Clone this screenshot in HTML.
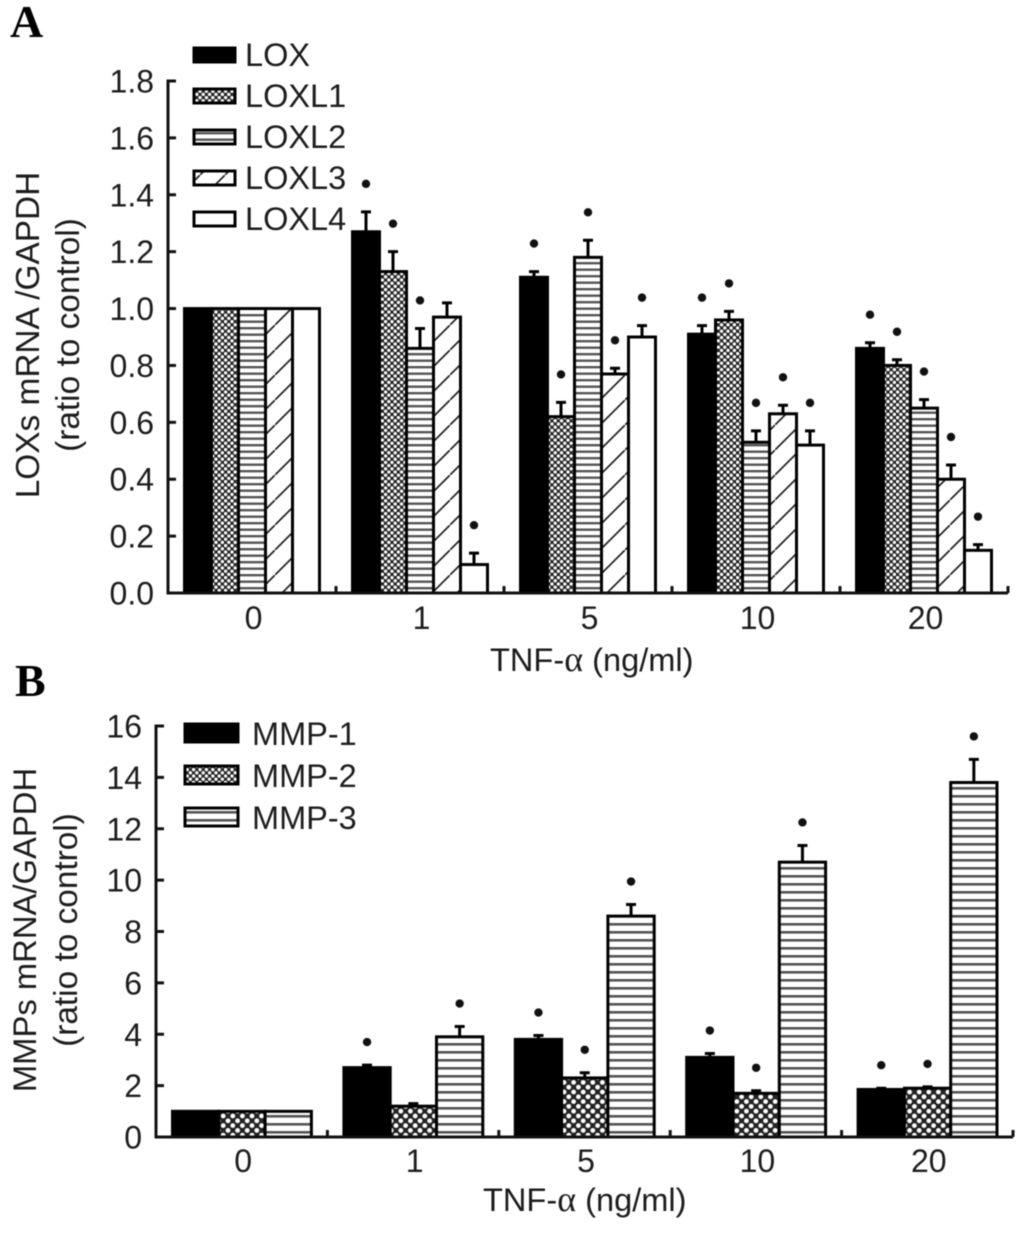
<!DOCTYPE html>
<html lang="en">
<head>
<meta charset="utf-8">
<title>LOXs and MMPs mRNA vs TNF-alpha</title>
<style>
html,body{margin:0;padding:0;background:#fff;width:1029px;height:1233px;overflow:hidden}
svg{display:block;filter:blur(0.55px)}
text{font-family:"Liberation Sans",Arial,sans-serif;fill:#1c1c1c}
.tick{font-size:32px}
.legend{font-size:32.5px}
.title{font-size:33.4px}
.panel{font-family:"Liberation Serif",serif;font-weight:bold;font-size:46px;fill:#000}
.alpha{font-family:"Liberation Serif",serif;font-size:36px}
</style>
</head>
<body>
<svg id="figure" xmlns="http://www.w3.org/2000/svg" width="1029" height="1233" viewBox="0 0 1029 1233">
<defs>
<pattern id="checkA" width="6.4" height="6.4" patternUnits="userSpaceOnUse">
<rect width="6.4" height="6.4" fill="#222"/><circle cx="1.6" cy="1.6" r="1.7" fill="#fff"/><circle cx="4.8" cy="4.8" r="1.7" fill="#fff"/>
</pattern>
<pattern id="stripeA" width="6.5" height="6.5" patternUnits="userSpaceOnUse">
<rect width="6.5" height="6.5" fill="#fff"/><rect y="2" width="6.5" height="2.4" fill="#555"/>
</pattern>
<pattern id="diagA" width="25" height="25" patternUnits="userSpaceOnUse">
<rect width="25" height="25" fill="#fff"/><path d="M-2 27L27 -2" stroke="#222" stroke-width="1.7"/>
</pattern>
<pattern id="checkB" width="9.6" height="9.6" patternUnits="userSpaceOnUse">
<rect width="9.6" height="9.6" fill="#222"/><circle cx="2.4" cy="2.4" r="2.4" fill="#fff"/><circle cx="7.2" cy="7.2" r="2.4" fill="#fff"/>
</pattern>
<pattern id="stripeB" width="8" height="8" patternUnits="userSpaceOnUse">
<rect width="8" height="8" fill="#fff"/><rect y="3" width="8" height="2.6" fill="#555"/>
</pattern>
</defs>

<text class="panel" x="10" y="37">A</text>
<text class="panel" x="15" y="696">B</text>

<g>
<g><rect x="194" y="48" width="41" height="14" fill="#000" stroke="#000" stroke-width="3"/><text class="legend" x="245" y="66">LOX</text></g>
<g><rect x="194" y="89" width="41" height="14" fill="url(#checkA)" stroke="#000" stroke-width="3"/><text class="legend" x="245" y="107">LOXL1</text></g>
<g><rect x="194" y="130" width="41" height="14" fill="url(#stripeA)" stroke="#000" stroke-width="3"/><text class="legend" x="245" y="148">LOXL2</text></g>
<g><rect x="194" y="171" width="41" height="14" fill="url(#diagA)" stroke="#000" stroke-width="3"/><text class="legend" x="245" y="189">LOXL3</text></g>
<g><rect x="194" y="212" width="41" height="14" fill="#fff" stroke="#000" stroke-width="3"/><text class="legend" x="245" y="230">LOXL4</text></g>
</g>

<g>
<g><rect x="185" y="724" width="53" height="18" fill="#000" stroke="#000" stroke-width="3"/><text class="legend" x="252" y="745">MMP-1</text></g>
<g><rect x="185" y="766" width="53" height="18" fill="url(#checkA)" stroke="#000" stroke-width="3"/><text class="legend" x="252" y="787">MMP-2</text></g>
<g><rect x="185" y="808" width="53" height="18" fill="url(#stripeB)" stroke="#000" stroke-width="3"/><text class="legend" x="252" y="829">MMP-3</text></g>
</g>

<text class="title" text-anchor="middle" transform="translate(39 335) rotate(-90)">LOXs mRNA /GAPDH</text>
<text class="title" text-anchor="middle" transform="translate(79 335) rotate(-90)">(ratio to control)</text>
<text class="title" text-anchor="middle" transform="translate(36 930) rotate(-90)" style="font-size:32.8px">MMPs mRNA/GAPDH</text>
<text class="title" text-anchor="middle" transform="translate(77 930) rotate(-90)">(ratio to control)</text>
<text class="title" x="490" y="671" style="font-size:32.6px">TNF-<tspan class="alpha">α</tspan> (ng/ml)</text>
<text class="title" x="483" y="1211" style="font-size:32.6px">TNF-<tspan class="alpha">α</tspan> (ng/ml)</text>

<g id="chart-a"></g>
<g id="chart-b"></g>
</svg>

<script>
const doseLabels = ['0', '1', '5', '10', '20'];

const tickLabelsA = ['0.0', '0.2', '0.4', '0.6', '0.8', '1.0', '1.2', '1.4', '1.6', '1.8'];
const seriesNamesA = ['lox', 'loxl1', 'loxl2', 'loxl3', 'loxl4'];
const loxValues = [1, 1.27, 1.11, 0.91, 0.86];
const loxl1Values = [1, 1.13, 0.62, 0.96, 0.80];
const loxl2Values = [1, 0.86, 1.18, 0.53, 0.65];
const loxl3Values = [1, 0.97, 0.77, 0.63, 0.40];
const loxl4Values = [1, 0.10, 0.90, 0.52, 0.15];
const loxErrors = [0, 0.07, 0.02, 0.03, 0.02];
const loxl1Errors = [0, 0.07, 0.05, 0.03, 0.02];
const loxl2Errors = [0, 0.07, 0.06, 0.04, 0.03];
const loxl3Errors = [0, 0.05, 0.02, 0.03, 0.05];
const loxl4Errors = [0, 0.04, 0.04, 0.05, 0.02];
const loxSig = [0, 1, 1, 1, 1];
const loxl1Sig = [0, 1, 1, 1, 1];
const loxl2Sig = [0, 1, 1, 1, 1];
const loxl3Sig = [0, 0, 1, 1, 1];
const loxl4Sig = [0, 1, 1, 1, 1];

const tickLabelsB = ['0', '2', '4', '6', '8', '10', '12', '14', '16'];
const seriesNamesB = ['mmp1', 'mmp2', 'mmp3'];
const mmp1Values = [1, 2.7, 3.8, 3.1, 1.85];
const mmp2Values = [1, 1.2, 2.3, 1.7, 1.9];
const mmp3Values = [1, 3.9, 8.6, 10.7, 13.8];
const mmp1Errors = [0, 0.1, 0.15, 0.15, 0.05];
const mmp2Errors = [0, 0.1, 0.2, 0.1, 0.05];
const mmp3Errors = [0, 0.4, 0.45, 0.65, 0.9];
const mmp1Sig = [0, 1, 1, 1, 1];
const mmp2Sig = [0, 0, 1, 1, 1];
const mmp3Sig = [0, 1, 1, 1, 1];

const SVGNS = 'http://www.w3.org/2000/svg';

function mk(parent, tag, attrs, text) {
  const el = document.createElementNS(SVGNS, tag);
  for (const k in attrs) el.setAttribute(k, attrs[k]);
  if (text !== undefined) el.textContent = text;
  parent.appendChild(el);
  return el;
}

function drawChart(cfg) {
  const root = document.getElementById(cfg.id);
  const yScale = v => cfg.y0 - (v - cfg.tickMin) / (cfg.tickMax - cfg.tickMin) * (cfg.y0 - cfg.y1);
  const groupLeft = i => cfg.x0 + i * cfg.step;
  const barX = (g, s) => groupLeft(g) + cfg.pad + s * cfg.barW;

  cfg.series.forEach((values, s) => {
    values.forEach((v, g) => {
      const bar = mk(root, 'rect', {
        x: barX(g, s), y: yScale(v), width: cfg.barW, height: cfg.y0 - yScale(v),
        fill: cfg.fills[s], stroke: '#000', 'stroke-width': 3
      });
      
      

      const cx = barX(g, s) + cfg.barW / 2;
      const top = yScale(v + cfg.errors[s][g]);
      if (cfg.errors[s][g] > 0) {
        const err = mk(root, 'path', {
          d: 'M' + cx + ' ' + yScale(v) + 'V' + top + 'M' + (cx - 5) + ' ' + top + 'H' + (cx + 5),
          stroke: '#000', 'stroke-width': 3, fill: 'none'
        });
        
        
      }
      if (cfg.sig[s][g]) {
        const star = mk(root, 'circle', { cx: cx, cy: top - cfg.starGap, r: 4.2, fill: '#111' });
        
        
      }
    });
  });

  const yAxis = mk(root, 'path', {
    d: 'M' + cfg.x0 + ' ' + (cfg.y1 - 1.5) + 'V' + (cfg.y0 + 1.5),
    stroke: '#111', 'stroke-width': 3, fill: 'none'
  });
  
  

  const xAxis = mk(root, 'path', {
    d: 'M' + cfg.x0 + ' ' + cfg.y0 + 'H' + groupLeft(doseLabels.length),
    stroke: '#111', 'stroke-width': 3, fill: 'none'
  });
  
  

  cfg.ticks.forEach(label => {
    const y = yScale(parseFloat(label));
    const tick = mk(root, 'path', {
      d: 'M' + cfg.x0 + ' ' + y + 'H' + (cfg.x0 + 8),
      stroke: '#111', 'stroke-width': 3
    });
    
    
    const t = mk(root, 'text', { class: 'tick', x: cfg.x0 - 14, y: y + 11.5, 'text-anchor': 'end' }, label);
    
    
  });

  doseLabels.forEach((label, g) => {
    const tick = mk(root, 'path', {
      d: 'M' + groupLeft(g + 1) + ' ' + cfg.y0 + 'V' + (cfg.y0 - 7),
      stroke: '#111', 'stroke-width': 3
    });
    
    
    const t = mk(root, 'text', { class: 'tick', x: groupLeft(g) + cfg.step / 2 + 1.5, y: cfg.labelY, 'text-anchor': 'middle' }, label);
    
    
  });
}

drawChart({
  id: 'chart-a', x0: 168, step: 168, pad: 16.5, barW: 27, y0: 593, y1: 81,
  tickMin: 0, tickMax: 1.8, ticks: tickLabelsA, labelY: 629, starGap: 28,
  names: seriesNamesA,
  series: [loxValues, loxl1Values, loxl2Values, loxl3Values, loxl4Values],
  errors: [loxErrors, loxl1Errors, loxl2Errors, loxl3Errors, loxl4Errors],
  sig: [loxSig, loxl1Sig, loxl2Sig, loxl3Sig, loxl4Sig],
  fills: ['#000', 'url(#checkA)', 'url(#stripeA)', 'url(#diagA)', '#fff']
});

drawChart({
  id: 'chart-b', x0: 156, step: 171.4, pad: 16.5, barW: 46.3, y0: 1137, y1: 726,
  tickMin: 0, tickMax: 16, ticks: tickLabelsB, labelY: 1172, starGap: 23,
  names: seriesNamesB,
  series: [mmp1Values, mmp2Values, mmp3Values],
  errors: [mmp1Errors, mmp2Errors, mmp3Errors],
  sig: [mmp1Sig, mmp2Sig, mmp3Sig],
  fills: ['#000', 'url(#checkB)', 'url(#stripeB)']
});
</script>
</body>
</html>
